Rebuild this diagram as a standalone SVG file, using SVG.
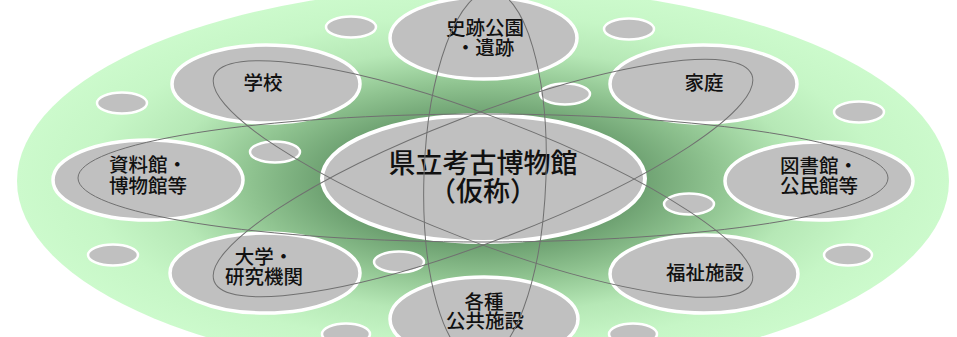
<svg xmlns="http://www.w3.org/2000/svg" width="957" height="337" viewBox="0 0 957 337">
<defs>
<radialGradient id="bg" cx="0.5" cy="0.5" r="0.5">
<stop offset="0" stop-color="#457845"/>
<stop offset="0.3" stop-color="#66996a"/>
<stop offset="0.5" stop-color="#8fc390"/>
<stop offset="0.68" stop-color="#b6e8b6"/>
<stop offset="0.85" stop-color="#c6f6c6"/>
<stop offset="1" stop-color="#ccfacc"/>
</radialGradient>
<style>
.node{fill:#c0c0c0;stroke:#ffffff;stroke-width:3.5}
.dot{fill:#c0c0c0;stroke:#ffffff;stroke-width:2.5}
.orbit{fill:none;stroke:#707070;stroke-width:1}
text{font-family:"Noto Sans CJK JP","Noto Sans CJK SC",sans-serif;fill:#111111;text-anchor:middle;font-weight:500}
.lbl{font-size:19.5px}
.big{font-size:27px}
</style>
</defs>
<ellipse cx="483" cy="181" rx="466" ry="194" fill="url(#bg)"/>
<g id="dots">
<ellipse class="dot" cx="351" cy="27" rx="25" ry="10.5"/>
<ellipse class="dot" cx="122" cy="103" rx="25" ry="10.5"/>
<ellipse class="dot" cx="275" cy="152" rx="25" ry="10.5"/>
<ellipse class="dot" cx="629" cy="29" rx="25" ry="10.5"/>
<ellipse class="dot" cx="565" cy="94" rx="25" ry="10.5"/>
<ellipse class="dot" cx="859" cy="112" rx="25" ry="10.5"/>
<ellipse class="dot" cx="689" cy="204" rx="25" ry="10.5"/>
<ellipse class="dot" cx="848" cy="255" rx="24" ry="10.5"/>
<ellipse class="dot" cx="113" cy="255" rx="25" ry="10.5"/>
<ellipse class="dot" cx="399" cy="262" rx="25" ry="10.5"/>
<ellipse class="dot" cx="346" cy="334" rx="24" ry="10.5"/>
<ellipse class="dot" cx="633" cy="334" rx="24" ry="10.5"/>
</g>
<g id="node-shiseki">
<ellipse class="node" cx="483.5" cy="38" rx="93.5" ry="41"/>
<text class="lbl" x="485" y="35">史跡公園</text>
<text class="lbl" x="485" y="55">・遺跡</text>
</g>
<g id="node-gakko">
<ellipse class="node" cx="266" cy="84" rx="94" ry="39"/>
<text class="lbl" x="263" y="89.5">学校</text>
</g>
<g id="node-katei">
<ellipse class="node" cx="703.5" cy="84" rx="93.5" ry="39"/>
<text class="lbl" x="704" y="90">家庭</text>
</g>
<g id="node-shiryokan">
<ellipse class="node" cx="148" cy="180" rx="95" ry="40"/>
<text class="lbl" x="148" y="172">資料館・</text>
<text class="lbl" x="148" y="193">博物館等</text>
</g>
<g id="node-toshokan">
<ellipse class="node" cx="819" cy="181" rx="94" ry="39"/>
<text class="lbl" x="819" y="173">図書館・</text>
<text class="lbl" x="819" y="193">公民館等</text>
</g>
<g id="node-daigaku">
<ellipse class="node" cx="265" cy="273" rx="95" ry="40"/>
<text class="lbl" x="264" y="264">大学・</text>
<text class="lbl" x="264" y="284">研究機関</text>
</g>
<g id="node-fukushi">
<ellipse class="node" cx="704" cy="274" rx="94" ry="39"/>
<text class="lbl" x="705" y="280">福祉施設</text>
</g>
<g id="node-koukyou">
<ellipse class="node" cx="484" cy="319" rx="94" ry="42"/>
<text class="lbl" x="484" y="309">各種</text>
<text class="lbl" x="485" y="328">公共施設</text>
</g>
<g id="node-center">
<ellipse class="node" cx="483.5" cy="178.5" rx="161.5" ry="63.5" style="stroke-width:4"/>
<text class="big" x="483" y="173">県立考古博物館</text>
<text class="big" x="483" y="201">（仮称）</text>
</g>
<g id="connectors">
<ellipse class="orbit" cx="483" cy="179" rx="288" ry="62" transform="rotate(21 483 179)"/>
<ellipse class="orbit" cx="483" cy="178" rx="288" ry="63" transform="rotate(-21 483 178)"/>
<ellipse class="orbit" cx="483" cy="178" rx="405" ry="64"/>
<ellipse class="orbit" cx="485" cy="176" rx="61" ry="185" transform="rotate(2 485 176)"/>
</g>
</svg>
